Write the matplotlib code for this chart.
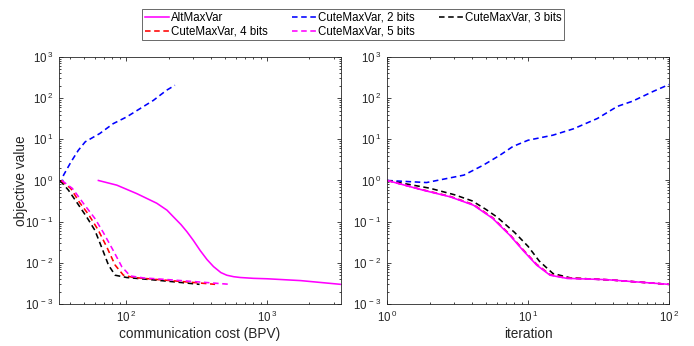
import matplotlib
matplotlib.use("Agg")
import matplotlib.pyplot as plt
import numpy as np
from matplotlib.ticker import FixedLocator, NullFormatter, FuncFormatter

plt.rcParams['font.family'] = ['Liberation Sans', 'DejaVu Sans']
plt.rcParams['mathtext.default'] = 'regular'
plt.rcParams['lines.scale_dashes'] = False

# ---------------- data: left panel (communication cost) ----------------
alt_cost = [63.6, 85.9, 119, 165, 195, 217, 245, 270, 300, 335, 375, 417, 470, 518, 580, 645, 800, 1000, 1730, 3330]
alt_cost_val = [1.0, 0.77, 0.48, 0.28, 0.19, 0.13, 0.085, 0.057, 0.035, 0.020, 0.012, 0.0081, 0.0058, 0.005, 0.0046, 0.0044, 0.0042, 0.0041, 0.0037, 0.0030]

b2_cost = [33.9, 35.0, 36.0, 40.6, 45.8, 51.3, 65, 81, 101, 126, 156, 194, 222]
b2_cost_val = [1.0, 0.9, 1.35, 2.8, 5.4, 8.7, 13.8, 24, 35, 56, 88, 156, 205]

b3_cost = [34.0, 39, 44.5, 52.5, 60, 67, 75, 83.6, 101, 150, 230, 332]
b3_cost_val = [1.0, 0.58, 0.30, 0.13, 0.062, 0.024, 0.0088, 0.005, 0.0044, 0.0039, 0.0034, 0.0030]

b4_cost = [34.5, 40.5, 46.5, 54.5, 63.5, 73, 83.6, 95.7, 113, 170, 280, 428]
b4_cost_val = [1.0, 0.64, 0.30, 0.144, 0.062, 0.024, 0.0088, 0.005, 0.0044, 0.0039, 0.0034, 0.0030]

b5_cost = [35.0, 41.6, 49.7, 60, 68.8, 81, 93.3, 107, 133, 200, 340, 547]
b5_cost_val = [1.0, 0.64, 0.28, 0.12, 0.055, 0.020, 0.008, 0.0048, 0.0043, 0.0039, 0.0034, 0.0030]

# ---------------- data: right panel (iteration) ----------------
alt_it = [1, 1.8, 2.8, 4.1, 5.6, 7.4, 9.2, 11.5, 14.3, 18.8, 36, 100]
alt_it_val = [1.0, 0.58, 0.40, 0.25, 0.12, 0.047, 0.020, 0.0088, 0.005, 0.0042, 0.0039, 0.0030]

b2_it = [1, 1.9, 3.5, 4.8, 6.3, 7.8, 10, 15, 21, 31, 43, 55, 77, 100]
b2_it_val = [1.0, 0.89, 1.35, 2.35, 4.1, 6.7, 9.5, 12.6, 18, 32, 63, 84, 145, 214]

b3_it = [1, 2, 3, 4, 5, 6, 8, 10, 12, 15, 20, 40, 100]
b3_it_val = [1.0, 0.65, 0.45, 0.32, 0.20, 0.13, 0.055, 0.025, 0.011, 0.0055, 0.0043, 0.0038, 0.0030]

b4_it = [1, 1.8, 2.8, 4.1, 5.6, 7.4, 9.2, 11.5, 14.3, 18.8, 36, 100]
b4_it_val = [1.0, 0.59, 0.41, 0.26, 0.125, 0.049, 0.021, 0.0092, 0.0052, 0.0043, 0.0039, 0.0030]

b5_it = [1, 1.8, 2.8, 4.1, 5.6, 7.4, 9.2, 11.5, 14.3, 18.8, 36, 100]
b5_it_val = [1.0, 0.585, 0.405, 0.255, 0.122, 0.048, 0.0205, 0.009, 0.0051, 0.0042, 0.0039, 0.0030]

labels = ["AltMaxVar", "CuteMaxVar, 2 bits", "CuteMaxVar, 3 bits",
          "CuteMaxVar, 4 bits", "CuteMaxVar, 5 bits"]
colors = ["#ff00ff", "#0000ff", "#000000", "#ff0000", "#ff00ff"]

left_xticks = [100, 1000]
right_xticks = [1, 10, 100]
yticks = [1e-3, 1e-2, 1e-1, 1e0, 1e1, 1e2, 1e3]

dash = (4.0, 2.6)
lw = 1.15
gray = "#262626"

fig = plt.figure(figsize=(6.94, 3.46), dpi=100)
axL = fig.add_axes([0.0855, 0.1214, 0.4055, 0.714])
axR = fig.add_axes([0.558, 0.1214, 0.406, 0.714])

def dashed(ax, x, y, c):
    h, = ax.plot(x, y, color=c, lw=lw, linestyle=(0, dash))
    return h

hL = [axL.plot(alt_cost, alt_cost_val, color=colors[0], lw=lw)[0],
      dashed(axL, b2_cost, b2_cost_val, colors[1]),
      dashed(axL, b3_cost, b3_cost_val, colors[2]),
      dashed(axL, b4_cost, b4_cost_val, colors[3]),
      dashed(axL, b5_cost, b5_cost_val, colors[4])]

dashed(axR, b2_it, b2_it_val, colors[1])
dashed(axR, b3_it, b3_it_val, colors[2])
dashed(axR, b4_it, b4_it_val, colors[3])
dashed(axR, b5_it, b5_it_val, colors[4])
axR.plot(alt_it, alt_it_val, color=colors[0], lw=lw)

def minor_ticks(lo_exp, hi_exp):
    return [m * 10.0 ** e for e in range(lo_exp, hi_exp) for m in range(2, 10)]

def pow10(v, pos=None):
    e = int(round(np.log10(v)))
    return r'$10^{\,%d}$' % e

fmt = FuncFormatter(pow10)

for ax, xt, xr in ((axL, left_xticks, (1, 4)), (axR, right_xticks, (0, 2))):
    ax.set_xscale('log')
    ax.set_yscale('log')
    ax.set_ylim(1e-3, 1e3)
    ax.yaxis.set_major_locator(FixedLocator(yticks))
    ax.yaxis.set_minor_locator(FixedLocator(minor_ticks(-3, 3)))
    ax.xaxis.set_major_locator(FixedLocator(xt))
    ax.xaxis.set_minor_locator(FixedLocator(minor_ticks(*xr)))
    ax.xaxis.set_major_formatter(fmt)
    ax.yaxis.set_major_formatter(fmt)
    ax.xaxis.set_minor_formatter(NullFormatter())
    ax.yaxis.set_minor_formatter(NullFormatter())
    ax.tick_params(which='both', direction='in', top=True, right=True,
                   colors=gray, labelsize=8.3, width=0.6)
    ax.tick_params(which='major', length=3, pad=4.5)
    ax.tick_params(which='minor', length=1.6)
    for s in ax.spines.values():
        s.set_color(gray)
        s.set_linewidth(0.6)

axL.set_xlim(33.6, 3333)
axR.set_xlim(1, 100)
axL.set_xlabel("communication cost (BPV)", fontsize=9.8, color=gray, labelpad=1)
axL.set_ylabel("objective value", fontsize=9.8, color=gray, labelpad=-2)
axR.set_xlabel("iteration", fontsize=9.8, color=gray, labelpad=1)

# MATLAB fills legend row-wise; matplotlib fills column-wise
order = [0, 3, 1, 4, 2]
leg = fig.legend([hL[i] for i in order], [labels[i] for i in order], ncol=3,
                 loc='upper left', bbox_to_anchor=(142/694, 1 - 9/346),
                 frameon=True, fancybox=False, fontsize=8.3,
                 handlelength=2.1, handletextpad=0.15, columnspacing=2.1,
                 borderpad=0.25, labelspacing=0.15, borderaxespad=0)
leg.get_frame().set_edgecolor(gray)
leg.get_frame().set_linewidth(0.6)

fig.savefig("out.png", dpi=100)
